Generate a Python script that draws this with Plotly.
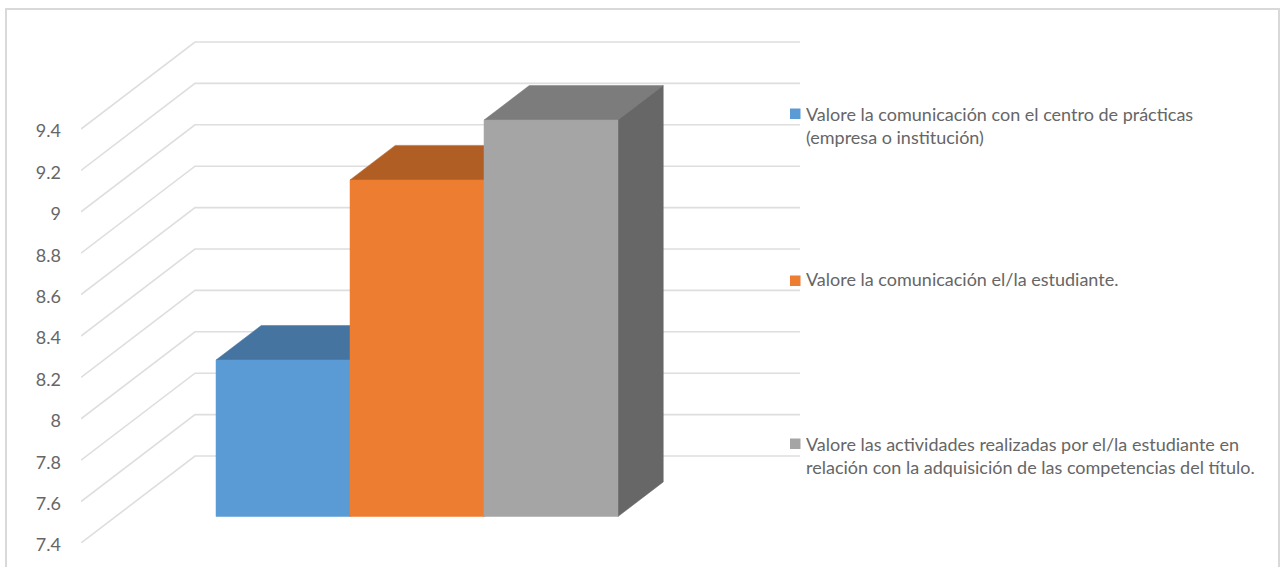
import plotly.graph_objects as go

# --- data ---
series_names = [
    "Valore la comunicación con el centro de prácticas<br>(empresa o institución)",
    "Valore la comunicación el/la estudiante.",
    "Valore las actividades realizadas por el/la estudiante en<br>relación con la adquisición de las competencias del título.",
]
series_values = [8.156, 9.026, 9.315]
tick_values = [7.4, 7.6, 7.8, 8.0, 8.2, 8.4, 8.6, 8.8, 9.0, 9.2, 9.4]
tick_labels = ["7.4", "7.6", "7.8", "8", "8.2", "8.4", "8.6", "8.8", "9", "9.2", "9.4"]
front_colors = ["#5B9BD5", "#ED7D31", "#A5A5A5"]
top_colors = ["#44749F", "#B15E25", "#7C7C7C"]
side_colors = ["#3A6488", "#8F4C1E", "#676767"]

# --- layout geometry of the oblique 3-D look ---
W, H = 1280, 567
ML, MR, MT, MB = 81, 480, 20, 24
CAT_PX = 134.0
BAR0_PX = 216.0
PPU = 207.0
FONT = "Lato"
TEXT = "#666666"
GRID = "#DEDEDE"

x0 = (ML - BAR0_PX) / CAT_PX
x1 = (W - MR - BAR0_PX) / CAT_PX
y_min = tick_values[0]
y_max = y_min + (H - MT - MB) / PPU

WALL_DX = 114 / CAT_PX      # horizontal run of the side wall, in category units
WALL_DY = 87 / PPU          # vertical run of the side wall, in value units
BAR_D0 = 0.3046             # bar front, as a fraction of the wall depth
BAR_D1 = BAR_D0 + 0.397     # bar back


def wall_x(d):
    return x0 + d * WALL_DX


def bar_pt(cat_x, v, d):
    # d is measured from the front of the floor; bar x is given at d = BAR_D0
    return cat_x + (d - BAR_D0) * WALL_DX, v + d * WALL_DY


def poly(points, color, name=None):
    xs, ys = zip(*points, points[0])
    return go.Scatter(x=xs, y=ys, mode="lines", fill="toself", fillcolor=color,
                      line=dict(color=color, width=0.5), hoverinfo="skip",
                      showlegend=False, name=name)


fig = go.Figure()

# gridlines on side wall and back wall
for v in tick_values:
    fig.add_trace(go.Scatter(
        x=[wall_x(0), wall_x(1), x1], y=[v, v + WALL_DY, v + WALL_DY],
        mode="lines", line=dict(color=GRID, width=1.6),
        hoverinfo="skip", showlegend=False))

# bars, back faces first, left to right
for i, val in enumerate(series_values):
    a, b = float(i), float(i + 1)
    fig.add_trace(poly([bar_pt(a, val, BAR_D0), bar_pt(b, val, BAR_D0),
                        bar_pt(b, val, BAR_D1), bar_pt(a, val, BAR_D1)], top_colors[i]))
    fig.add_trace(poly([bar_pt(b, y_min, BAR_D0), bar_pt(b, val, BAR_D0),
                        bar_pt(b, val, BAR_D1), bar_pt(b, y_min, BAR_D1)], side_colors[i]))
    fig.add_trace(poly([bar_pt(a, y_min, BAR_D0), bar_pt(b, y_min, BAR_D0),
                        bar_pt(b, val, BAR_D0), bar_pt(a, val, BAR_D0)], front_colors[i],
                       name=series_names[i].replace("<br>", " ")))

plot_w = W - ML - MR
plot_h = H - MT - MB


def px(x):
    return (x - ML) / plot_w


def py(y):
    return 1 - (y - MT) / plot_h


shapes = [dict(type="rect", xref="paper", yref="paper",
               x0=px(6), x1=px(1279), y0=py(9), y1=py(570),
               line=dict(color="#D9D9D9", width=2), fillcolor="rgba(0,0,0,0)", layer="below")]
annotations = []
legend_swatch_y = [114, 281, 444]
legend_text_y = [125.5, 278.5, 455]
for name, color, sy, ty in zip(series_names, front_colors, legend_swatch_y, legend_text_y):
    shapes.append(dict(type="rect", xref="paper", yref="paper",
                       x0=px(790), x1=px(800.5), y0=py(sy - 5.5), y1=py(sy + 5),
                       line=dict(width=0), fillcolor=color))
    annotations.append(dict(xref="paper", yref="paper", x=px(804), y=py(ty),
                            xanchor="left", yanchor="middle", align="left", showarrow=False,
                            text=name, font=dict(family=FONT, size=18, color=TEXT)))

fig.update_layout(
    width=W, height=H, autosize=False,
    margin=dict(l=ML, r=MR, t=MT, b=MB),
    paper_bgcolor="white", plot_bgcolor="rgba(0,0,0,0)",
    showlegend=False, shapes=shapes, annotations=annotations,
    xaxis=dict(range=[x0, x1], visible=False, fixedrange=True),
    yaxis=dict(range=[y_min, y_max], tickmode="array", tickvals=tick_values,
               ticktext=tick_labels, showgrid=False, zeroline=False, showline=False,
               ticks="", ticklabelstandoff=19, ticklabelshift=2, fixedrange=True,
               tickfont=dict(family=FONT, size=18, color=TEXT)),
)

fig.write_html("out.html", config=dict(displayModeBar=False),
               post_script="document.body.style.margin='0';document.documentElement.style.overflow='hidden';")
